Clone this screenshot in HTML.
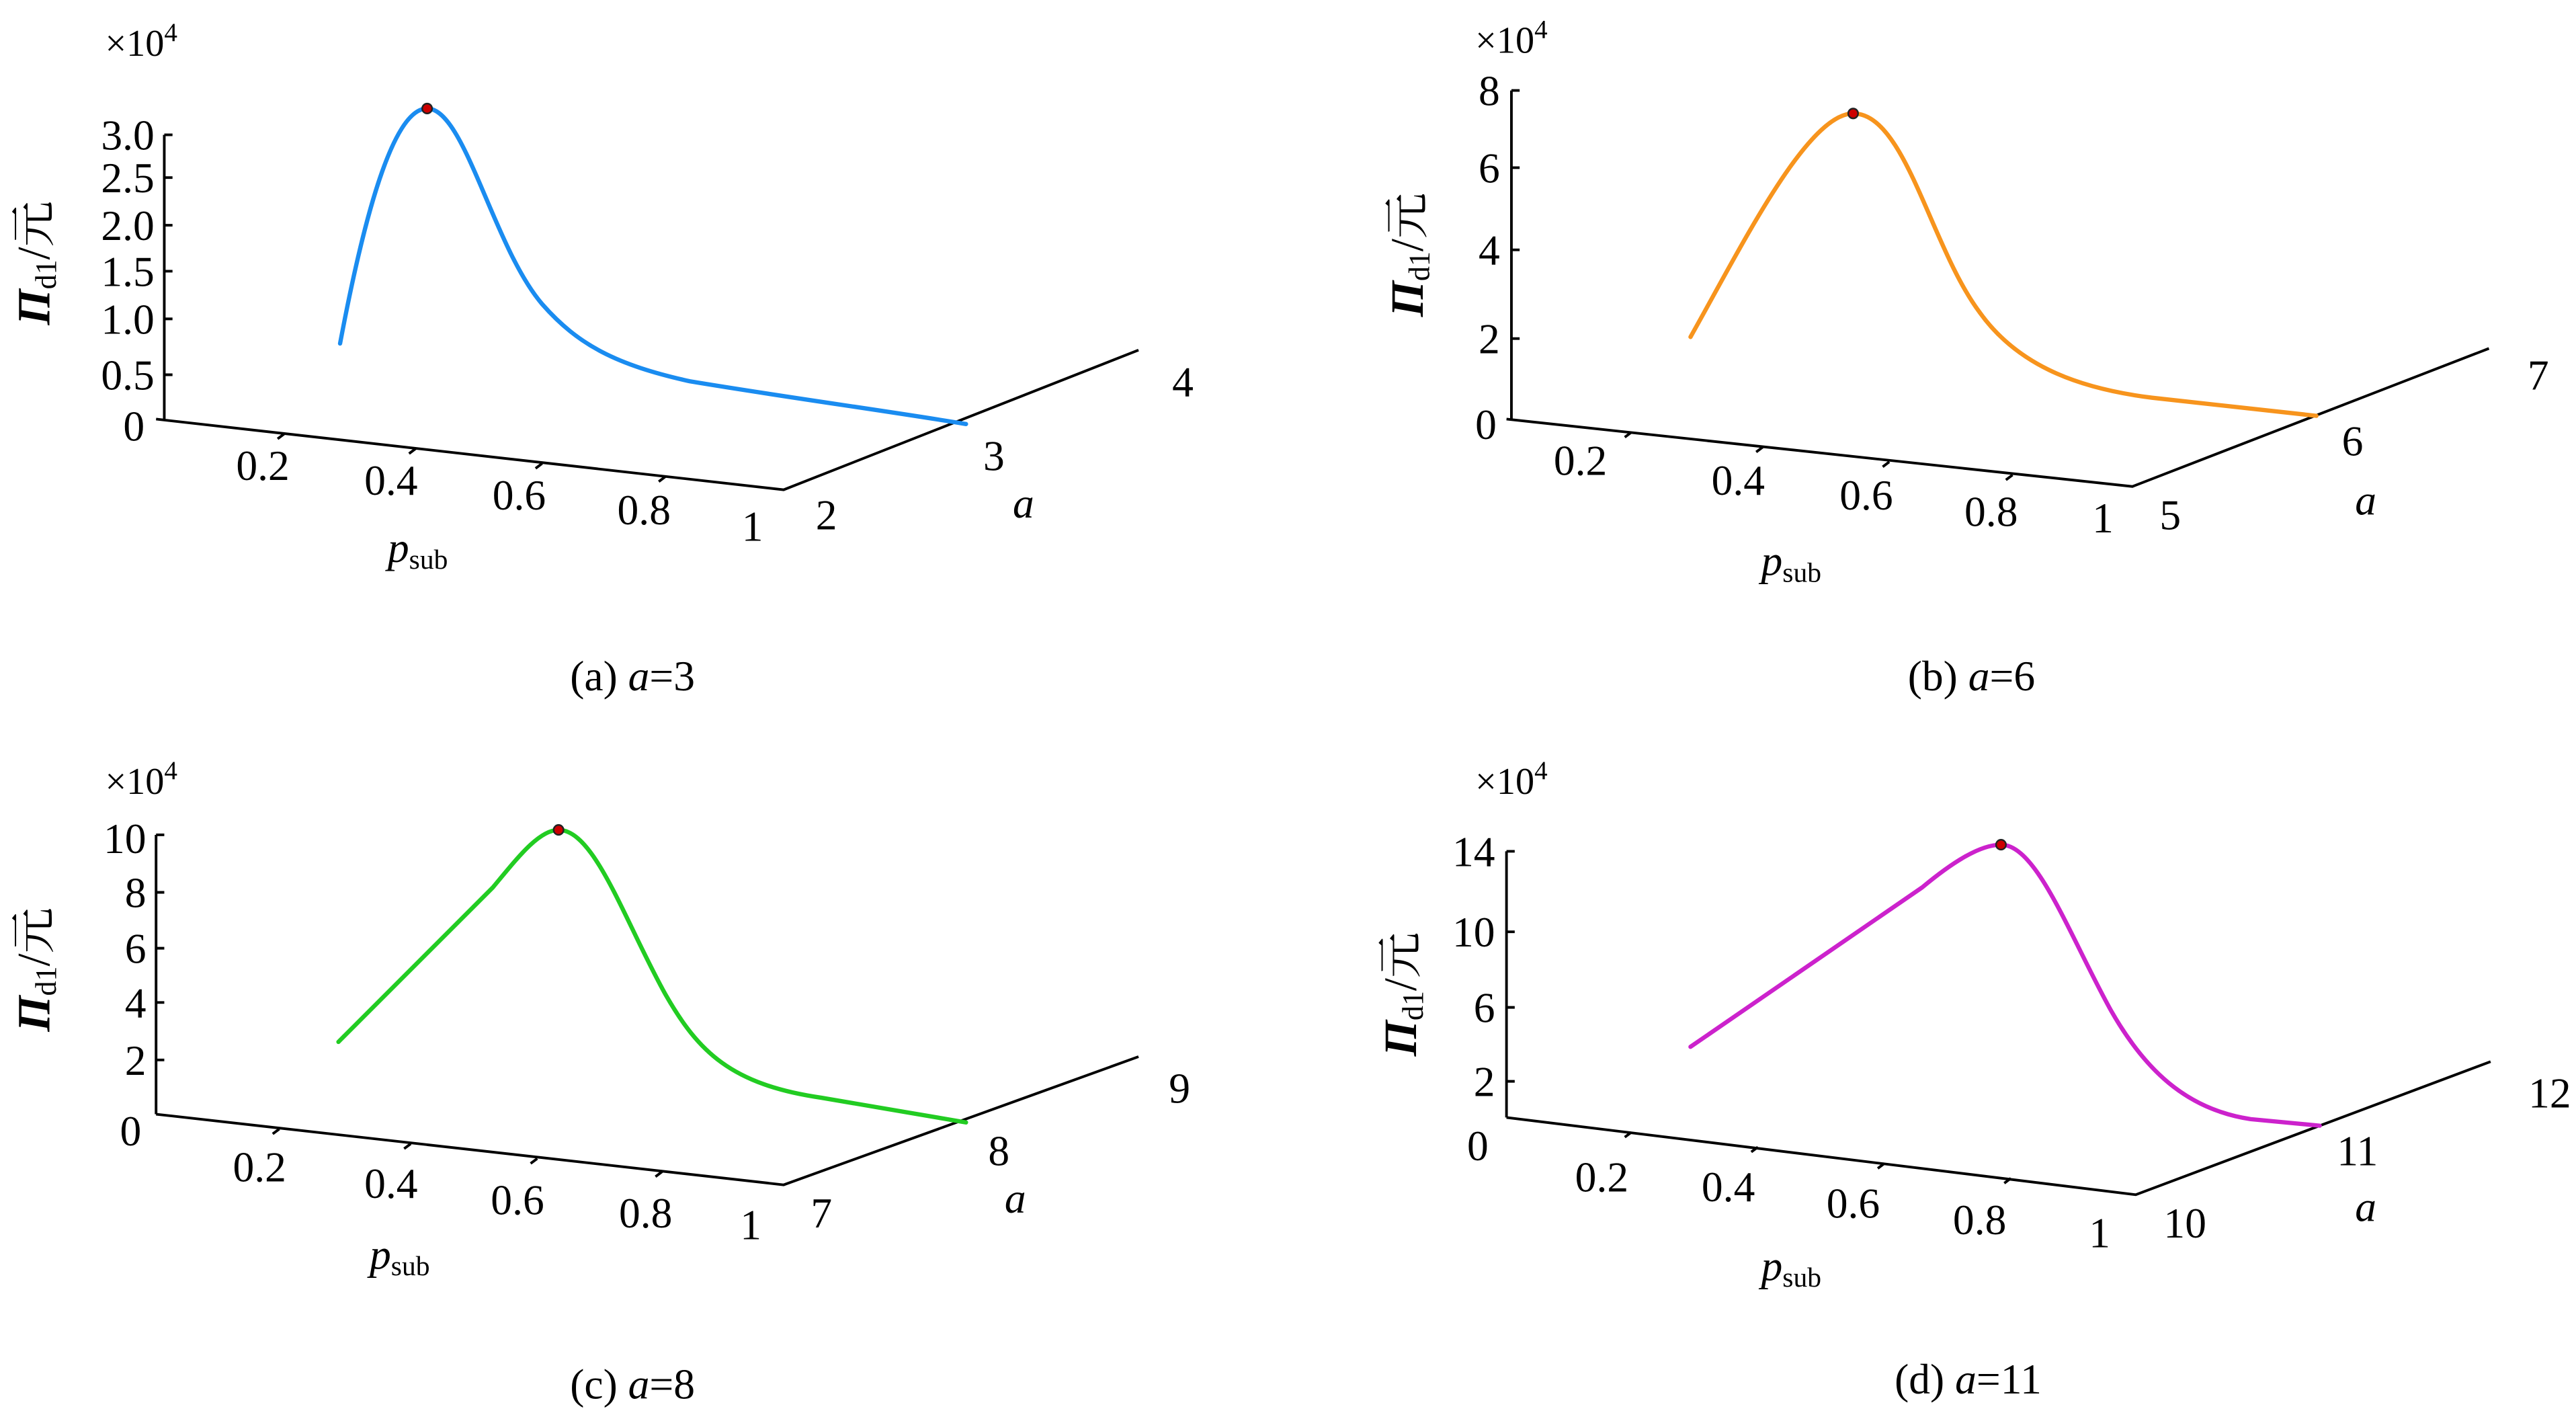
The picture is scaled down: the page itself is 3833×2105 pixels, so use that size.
<!DOCTYPE html>
<html><head><meta charset="utf-8"><style>html,body{margin:0;padding:0;background:#fff}svg{display:block}svg text{font-family:"Liberation Serif","Noto Serif CJK SC",serif}</style></head><body>
<svg width="3833" height="2105" viewBox="0 0 1568 861" xmlns="http://www.w3.org/2000/svg" font-size="26">
<rect width="1568" height="861" fill="#fff"/>
<g stroke="#000" stroke-width="1.6" fill="none">
<path d="M100,82 V255 M95,255 L477,298 L693,213"/>
<path d="M100,82h5M100,108h5M100,137h5M100,165h5M100,194h5M100,228h5"/>
<path d="M173,264 l-4,3M253,273 l-4,3M330,282 l-4,3M405,290 l-4,3"/>
<path d="M920,55 V255 M917,255 L1298,296 L1515,212"/>
<path d="M920,55h5M920,102h5M920,152h5M920,206h5"/>
<path d="M993,263 l-4,3M1073,272 l-4,3M1150,281 l-4,3M1225,289 l-4,3"/>
<path d="M95,508 V678 M95,678 L477,721 L693,643"/>
<path d="M95,508h5M95,543h5M95,577h5M95,610h5M95,645h5"/>
<path d="M170,687 l-4,3M250,696 l-4,3M327,705 l-4,3M403,713 l-4,3"/>
<path d="M917,518 V680 M917,680 L1300,727 L1516,646"/>
<path d="M917,518h5M917,567h5M917,613h5M917,658h5"/>
<path d="M993,689 l-4,3M1070,698 l-4,3M1147,708 l-4,3M1224,717 l-4,3"/>
</g>
<g fill="none" stroke-width="2.6" stroke-linecap="round">
<path stroke="#1a8cf0" d="M207,209 C220,140 238,66 260,66 C283,66 300,150 330,185 C352,210 375,222 420,232 C480,242 540,250 588,258"/>
<path stroke="#f7941d" d="M1029,205 C1060,150 1100,69 1128,69 C1160,69 1175,150 1205,190 C1230,225 1270,237 1310,242 L1410,253"/>
<path stroke="#22cc22" d="M206,634 L300,540 C315,522 328,505 340,505 C362,505 380,560 405,605 C425,640 445,660 500,668 L588,683"/>
<path stroke="#cc22cc" d="M1029,637 L1170,540 C1188,525 1205,514 1218,514 C1240,514 1260,570 1285,615 C1305,650 1330,675 1370,681 L1412,685"/>
</g>
<g fill="#c00" stroke="#222" stroke-width="1"><circle cx="260" cy="66" r="3"/><circle cx="1128" cy="69" r="3"/><circle cx="340" cy="505" r="3"/><circle cx="1218" cy="514" r="3"/></g>
<g text-anchor="end">
<text x="94" y="91">3.0</text><text x="94" y="117">2.5</text><text x="94" y="146">2.0</text><text x="94" y="174">1.5</text><text x="94" y="203">1.0</text><text x="94" y="237">0.5</text><text x="88" y="268">0</text>
<text x="913" y="64">8</text><text x="913" y="111">6</text><text x="913" y="161">4</text><text x="913" y="215">2</text><text x="911" y="267">0</text>
<text x="89" y="519">10</text><text x="89" y="552">8</text><text x="89" y="586">6</text><text x="89" y="619">4</text><text x="89" y="654">2</text><text x="86" y="697">0</text>
<text x="910" y="527">14</text><text x="910" y="576">10</text><text x="910" y="622">6</text><text x="910" y="667">2</text><text x="906" y="706">0</text>
</g>
<g text-anchor="middle">
<text x="160" y="292">0.2</text><text x="238" y="301">0.4</text><text x="316" y="310">0.6</text><text x="392" y="319">0.8</text><text x="458" y="329">1</text>
<text x="503" y="322">2</text><text x="605" y="286">3</text><text x="720" y="241">4</text>
<text x="962" y="289">0.2</text><text x="1058" y="301">0.4</text><text x="1136" y="310">0.6</text><text x="1212" y="320">0.8</text><text x="1280" y="324">1</text>
<text x="1321" y="322">5</text><text x="1432" y="277">6</text><text x="1545" y="237">7</text>
<text x="158" y="719">0.2</text><text x="238" y="729">0.4</text><text x="315" y="739">0.6</text><text x="393" y="747">0.8</text><text x="457" y="754">1</text>
<text x="500" y="747">7</text><text x="608" y="709">8</text><text x="718" y="671">9</text>
<text x="975" y="725">0.2</text><text x="1052" y="731">0.4</text><text x="1128" y="741">0.6</text><text x="1205" y="751">0.8</text><text x="1278" y="759">1</text>
<text x="1330" y="753">10</text><text x="1435" y="709">11</text><text x="1552" y="674">12</text>
<g font-style="italic"><text x="623" y="315">a</text><text x="1440" y="313">a</text><text x="618" y="738">a</text><text x="1440" y="743">a</text></g>
<text x="385" y="420">(a) <tspan font-style="italic">a</tspan>=3</text>
<text x="1200" y="420">(b) <tspan font-style="italic">a</tspan>=6</text>
<text x="385" y="851">(c) <tspan font-style="italic">a</tspan>=8</text>
<text x="1198" y="848">(d) <tspan font-style="italic">a</tspan>=11</text>
</g>
<g>
<text x="236" y="342"><tspan font-style="italic">p</tspan><tspan font-size="17" dy="4">sub</tspan></text>
<text x="1072" y="350"><tspan font-style="italic">p</tspan><tspan font-size="17" dy="4">sub</tspan></text>
<text x="225" y="772"><tspan font-style="italic">p</tspan><tspan font-size="17" dy="4">sub</tspan></text>
<text x="1072" y="779"><tspan font-style="italic">p</tspan><tspan font-size="17" dy="4">sub</tspan></text>
<text x="64" y="34" font-size="23">×10<tspan font-size="16" dy="-9">4</tspan></text>
<text x="898" y="32" font-size="23">×10<tspan font-size="16" dy="-9">4</tspan></text>
<text x="64" y="483" font-size="23">×10<tspan font-size="16" dy="-9">4</tspan></text>
<text x="898" y="483" font-size="23">×10<tspan font-size="16" dy="-9">4</tspan></text>
</g>
<g font-size="28">
<text transform="translate(30,160) rotate(-90)" text-anchor="middle"><tspan font-style="italic" font-weight="bold">Π</tspan><tspan font-size="18" dy="4">d1</tspan><tspan dy="-4">/元</tspan></text>
<text transform="translate(866,155) rotate(-90)" text-anchor="middle"><tspan font-style="italic" font-weight="bold">Π</tspan><tspan font-size="18" dy="4">d1</tspan><tspan dy="-4">/元</tspan></text>
<text transform="translate(30,590) rotate(-90)" text-anchor="middle"><tspan font-style="italic" font-weight="bold">Π</tspan><tspan font-size="18" dy="4">d1</tspan><tspan dy="-4">/元</tspan></text>
<text transform="translate(862,605) rotate(-90)" text-anchor="middle"><tspan font-style="italic" font-weight="bold">Π</tspan><tspan font-size="18" dy="4">d1</tspan><tspan dy="-4">/元</tspan></text>
</g>
</svg>
</body></html>
